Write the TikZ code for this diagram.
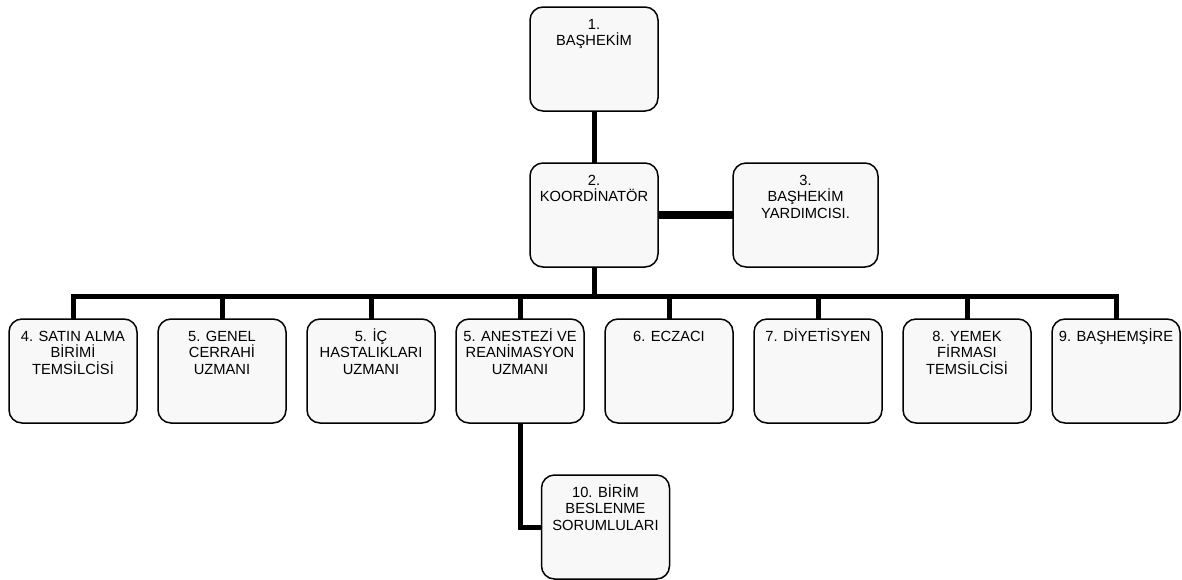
\documentclass[tikz,border=0pt]{standalone}
\usepackage{fontspec}
\setmainfont{Liberation Sans}
\usepackage{xcolor}
\definecolor{boxfill}{RGB}{248,248,248}
\usepackage{tikz}
\usetikzlibrary{positioning}
\newcommand{\boxtext}[1]{\parbox[c][104pt][t]{126pt}{\centering\rule{0pt}{22pt}#1}}

\begin{document}
\begin{tikzpicture}[
node distance=52pt and 21pt,
block/.style={draw,line width=1.5pt,rounded corners=13pt,fill=boxfill,inner sep=0pt,outer sep=0pt,minimum width=128pt,minimum height=104pt,font=\fontsize{14.7}{16.7}\selectfont},
conn/.style={line width=5pt}]
\useasboundingbox (0,0) rectangle (1182pt,-579pt);
\node[block] (bashekim) at (594pt,-59pt) {\boxtext{1.\\BAŞHEKİM}};
\node[block,below=of bashekim] (koord) {\boxtext{2.\\KOORDİNATÖR}};
\node[block,right=75pt of koord,minimum width=145pt] (yardimci) {\boxtext{3.\\BAŞHEKİM\\YARDIMCISI.}};
\node[block,below=of koord,xshift=-74pt] (anestezi) {\boxtext{5. ANESTEZİ VE\\REANİMASYON\\UZMANI}};
\node[block,left=of anestezi] (ic) {\boxtext{5. İÇ\\HASTALIKLARI\\UZMANI}};
\node[block,left=of ic] (genel) {\boxtext{5. GENEL\\CERRAHİ\\UZMANI}};
\node[block,left=of genel] (satin) {\boxtext{4. SATIN ALMA\\BİRİMİ\\TEMSİLCİSİ}};
\node[block,right=of anestezi] (eczaci) {\boxtext{6. ECZACI}};
\node[block,right=of eczaci] (diyet) {\boxtext{7. DİYETİSYEN}};
\node[block,right=of diyet] (yemek) {\boxtext{8. YEMEK\\FİRMASI\\TEMSİLCİSİ}};
\node[block,right=of yemek] (bashemsire) {\boxtext{9. BAŞHEMŞİRE}};
\node[block,below=of anestezi,xshift=85.5pt] (birim) {\boxtext{10. BİRİM\\BESLENME\\SORUMLULARI}};
\coordinate[below=29pt of koord] (bus);
\draw[conn] (bashekim) -- (koord);
\draw[conn,line width=7.5pt] (koord) -- (yardimci);
\draw[conn] (koord) -- (bus);
\draw[conn] (satin) |- (bus) -| (bashemsire);
\foreach \n in {genel,ic,anestezi,eczaci,diyet,yemek}
  \draw[conn] (\n) -- (\n |- bus);
\draw[conn] (anestezi) |- (birim);
\end{tikzpicture}
\end{document}
